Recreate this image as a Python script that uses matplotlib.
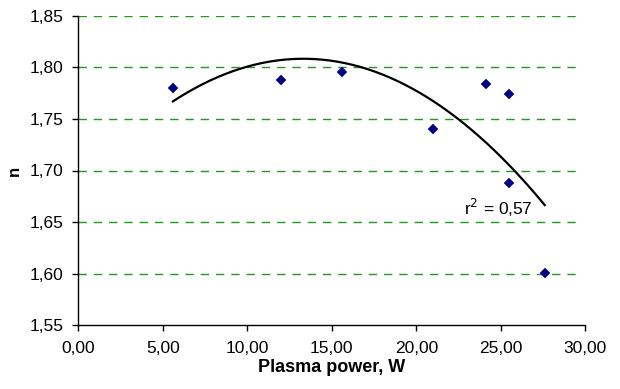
import numpy as np
import matplotlib
matplotlib.use("Agg")
import matplotlib.pyplot as plt
from matplotlib.ticker import FuncFormatter

plt.rcParams['font.family'] = ['Liberation Sans', 'DejaVu Sans']

power = [5.6, 12.0, 15.6, 21.0, 24.1, 25.5, 25.5, 27.6]
n_vals = [1.780, 1.788, 1.795, 1.740, 1.784, 1.774, 1.688, 1.601]
r2_label = "r$^2$ = 0,57"

fig = plt.figure(figsize=(6.2, 3.89), dpi=100)
L, R, T, B = 78.3, 585.3, 15.7, 325.3
ax = fig.add_axes([L/620, 1-B/389, (R-L)/620, (B-T)/389])

coef = np.polyfit(power, n_vals, 2)
xs = np.linspace(min(power), max(power), 200)
ax.plot(xs, np.polyval(coef, xs), color='black', lw=1.6, zorder=3)
ax.plot(power, n_vals, 'D', ms=5.0, color='#000080', mec='#000080', mew=0.3, zorder=4)

ax.set_xlim(0, 30)
ax.set_ylim(1.55, 1.85)
ax.set_xticks(np.arange(0, 30.1, 5))
ax.set_yticks(np.arange(1.55, 1.851, 0.05))
fmt = FuncFormatter(lambda v, p: f"{v:.2f}".replace('.', ','))
ax.xaxis.set_major_formatter(fmt)
ax.yaxis.set_major_formatter(fmt)
for y in np.arange(1.60, 1.851, 0.05):
    ax.axhline(y, xmax=0.985, color='#1f9a1f', lw=1.0, dashes=(6, 5), zorder=1)

for s in ['top', 'right']:
    ax.spines[s].set_visible(False)
for s in ['left', 'bottom']:
    ax.spines[s].set_linewidth(1.0)
ax.tick_params(axis='both', labelsize=12.5, length=4.3, width=1, direction='out')
ax.tick_params(axis='x', pad=7)
ax.tick_params(axis='y', pad=6.5)
ax.set_xlabel("Plasma power, W", fontsize=13, fontweight='bold', labelpad=2)
ax.set_ylabel("n", fontsize=12, fontweight='bold', labelpad=5.5)
ax.text(26.9, 1.657, r2_label, fontsize=12.5, ha='right', va='baseline')

fig.savefig("out.png", dpi=100)
